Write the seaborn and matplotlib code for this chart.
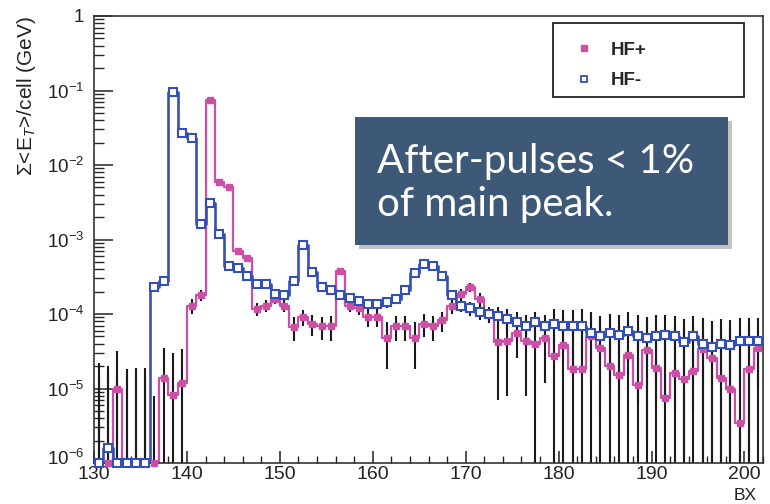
import numpy as np
import pandas as pd
import matplotlib
matplotlib.use("Agg")
import matplotlib.pyplot as plt
import matplotlib.transforms as mtransforms
import seaborn as sns
from matplotlib.lines import Line2D
from matplotlib.patches import Rectangle
from matplotlib.ticker import FixedLocator, FixedFormatter, LogLocator, NullFormatter, MultipleLocator

# ---------------- data ----------------
bx_start = 130
hf_minus = [0, 1.6e-6, 0, 0, 0, 0, 2.3e-4, 2.8e-4, 9.5e-2, 2.7e-2,
            2.3e-2, 1.6e-3, 3.1e-3, 1.2e-3, 4.4e-4, 4.1e-4, 3.2e-4, 2.5e-4, 2.5e-4, 1.85e-4,
            1.8e-4, 2.8e-4, 8.5e-4, 3.7e-4, 2.3e-4, 2.1e-4, 1.8e-4, 1.65e-4, 1.5e-4, 1.35e-4,
            1.35e-4, 1.45e-4, 1.6e-4, 2.1e-4, 3.6e-4, 4.7e-4, 4.4e-4, 3.2e-4, 1.8e-4, 1.3e-4,
            1.2e-4, 1.07e-4, 1.0e-4, 9.5e-5, 8.5e-5, 7.8e-5, 6.8e-5, 7.8e-5, 6.8e-5, 7.3e-5,
            6.8e-5, 6.9e-5, 7.0e-5, 5.6e-5, 5.0e-5, 5.6e-5, 5.2e-5, 6.0e-5, 5.1e-5, 4.7e-5,
            5.1e-5, 5.2e-5, 5.0e-5, 4.2e-5, 5.0e-5, 4.0e-5, 3.6e-5, 4.0e-5, 3.8e-5, 4.3e-5,
            4.3e-5, 4.3e-5]
hf_plus = [0, 0, 1.0e-5, 0, 0, 0, 0, 1.4e-5, 8.1e-6, 1.17e-5,
           1.3e-4, 1.8e-4, 7.4e-2, 6.0e-3, 5.0e-3, 7.1e-4, 5.6e-4, 1.17e-4, 1.3e-4, 1.6e-4,
           1.3e-4, 6.7e-5, 9.2e-5, 7.4e-5, 6.8e-5, 6.8e-5, 3.8e-4, 1.3e-4, 1.2e-4, 9.2e-5,
           9.2e-5, 4.8e-5, 6.8e-5, 6.8e-5, 4.8e-5, 7.4e-5, 6.8e-5, 8.2e-5, 1.3e-4, 1.85e-4,
           2.3e-4, 1.6e-4, 1.0e-4, 4.2e-5, 4.3e-5, 5.6e-5, 4.3e-5, 4.0e-5, 4.7e-5, 2.7e-5,
           3.8e-5, 1.85e-5, 1.85e-5, 5.0e-5, 3.5e-5, 2.0e-5, 1.5e-5, 2.8e-5, 1.1e-5, 3.3e-5,
           1.9e-5, 7.5e-6, 1.6e-5, 1.35e-5, 1.7e-5, 3.4e-5, 2.6e-5, 1.4e-5, 1.0e-5, 3.4e-6,
           1.85e-5, 3.5e-5]
hf_minus_err = [1.5e-5, 1.5e-5, 1.5e-5, 1.5e-5, 1.5e-5, 1.5e-5, 3e-5, 3e-5, 2e-3, 1e-3,
                1e-3, 1e-4, 1.5e-4, 8e-5, 4e-5, 4e-5, 3e-5, 2.5e-5, 2.5e-5, 2.5e-5,
                2.5e-5, 2.5e-5, 4e-5, 3e-5, 2.5e-5, 2.5e-5, 2.5e-5, 2.5e-5, 2.5e-5, 2.5e-5,
                2.5e-5, 2.5e-5, 2.5e-5, 2.5e-5, 3e-5, 3e-5, 3e-5, 3e-5, 2.5e-5, 2.5e-5,
                2.5e-5, 2.5e-5, 2.5e-5, 3e-5, 3e-5, 3e-5, 3e-5, 3e-5, 3e-5, 4.5e-5,
                4.5e-5, 4.5e-5, 4.5e-5, 4.5e-5, 4.5e-5, 4.5e-5, 4.5e-5, 4.5e-5, 4.5e-5, 4.5e-5,
                4.5e-5, 4.5e-5, 4.5e-5, 4.5e-5, 4.5e-5, 4.5e-5, 4.5e-5, 4.5e-5, 4.5e-5, 4.5e-5,
                4.5e-5, 4.5e-5]
hf_plus_err = [2.2e-5, 2.0e-5, 2.2e-5, 1.8e-5, 1.9e-5, 1.9e-5, 8e-6, 2.1e-5, 2.2e-5, 2.2e-5,
               3e-5, 3e-5, 1e-3, 2e-4, 2e-4, 5e-5, 5e-5, 2.2e-5, 2.2e-5, 2.2e-5,
               2.2e-5, 2.3e-5, 2.2e-5, 2.3e-5, 2.3e-5, 2.5e-5, 3e-5, 2.2e-5, 2.2e-5, 2.5e-5,
               2.5e-5, 3e-5, 2.5e-5, 2.5e-5, 3e-5, 2.5e-5, 2.5e-5, 2.5e-5, 3e-5, 3e-5,
               3e-5, 3e-5, 2.5e-5, 3.5e-5, 3.5e-5, 3e-5, 3.5e-5, 4e-5, 3.5e-5, 5.5e-5,
               5.5e-5, 5.5e-5, 5.5e-5, 5.5e-5, 5.5e-5, 5.5e-5, 5.5e-5, 5.5e-5, 5.5e-5, 5.5e-5,
               5.5e-5, 5.5e-5, 5.5e-5, 5.5e-5, 5.5e-5, 5.5e-5, 5.5e-5, 5.5e-5, 5.5e-5, 5.5e-5,
               5.5e-5, 2.5e-5]
series_names = ["HF+", "HF-"]
x_ticks = [130, 140, 150, 160, 170, 180, 190, 200]
y_ticks = [1e-6, 1e-5, 1e-4, 1e-3, 1e-2, 1e-1, 1]
y_tick_labels = ["$10^{-6}$", "$10^{-5}$", "$10^{-4}$", "$10^{-3}$", "$10^{-2}$", "$10^{-1}$", "1"]
x_label = "BX"
y_label = r"$\Sigma$<E$_T$>/cell (GeV)"
note_text = "After-pulses < 1%\nof main peak."

# ---------------- style ----------------
sns.set_theme(style="white")
plt.rcParams["font.family"] = ["Liberation Sans", "DejaVu Sans"]
plt.rcParams["mathtext.fontset"] = "custom"
plt.rcParams["mathtext.rm"] = "Liberation Sans"
plt.rcParams["mathtext.it"] = "Liberation Sans:italic"
plt.rcParams["mathtext.bf"] = "Liberation Sans:bold"

c_plus = "#cc4fa6"
c_minus = "#3450b8"
ymin, ymax = 1e-6, 1.0

n = len(hf_minus)
centers = bx_start + 0.5 + np.arange(n)
edges = bx_start + np.arange(n + 1)

df = pd.DataFrame({
    "center": np.concatenate([centers, centers]),
    "value": np.concatenate([hf_plus, hf_minus]),
    "err": np.concatenate([hf_plus_err, hf_minus_err]),
    "series": [series_names[0]] * n + [series_names[1]] * n,
})
df["shown"] = df["value"].clip(lower=ymin)

fig = plt.figure(figsize=(7.70, 5.04), dpi=100)
fig.patch.set_facecolor("white")
ax = fig.add_axes([94 / 770, 41 / 504, 669 / 770, 447 / 504])
ax.set_yscale("log")

# error bars
for name in series_names:
    sub = df[df.series == name]
    lo = np.maximum(sub["value"] - sub["err"], ymin * 0.1)
    hi = sub["value"] + sub["err"]
    ax.vlines(sub["center"], lo, hi, colors="#1a1a1a", linewidth=1.5, zorder=1)

# step lines (bin edges)
for name, col, lw in [(series_names[0], c_plus, 1.6), (series_names[1], c_minus, 1.9)]:
    sub = df[df.series == name]
    vals = np.append(sub["shown"].values, sub["shown"].values[-1])
    sns.lineplot(x=edges, y=vals, drawstyle="steps-post", color=col, linewidth=lw,
                 estimator=None, sort=False, ax=ax, zorder=2, legend=False)

# markers
sub_p = df[df.series == series_names[0]]
sub_m = df[df.series == series_names[1]]
ax.plot(sub_p["center"], sub_p["shown"], ls="none", marker="s", ms=4, color=c_plus,
        mec=c_plus, zorder=3, clip_on=False)
ax.plot(sub_m["center"], sub_m["shown"], ls="none", marker="s", ms=5.5, mfc="white",
        mec=c_minus, mew=1.5, zorder=4, clip_on=False)

ax.set_xlim(bx_start, bx_start + n)
ax.set_ylim(ymin, ymax)

# ticks
ax.yaxis.set_major_locator(FixedLocator(y_ticks))
ax.yaxis.set_major_formatter(FixedFormatter(y_tick_labels))
ax.yaxis.set_minor_locator(LogLocator(base=10, subs=np.arange(2, 10), numticks=20))
ax.yaxis.set_minor_formatter(NullFormatter())
ax.xaxis.set_major_locator(FixedLocator(x_ticks))
ax.set_xticklabels([str(t) for t in x_ticks])
ax.xaxis.set_minor_locator(MultipleLocator(2))
ax.tick_params(axis="y", which="major", direction="in", length=14, width=1.1,
               labelsize=13.5, pad=7, colors="#222222", left=True)
ax.tick_params(axis="y", which="minor", direction="in", length=7, width=1.0, left=True)
ax.tick_params(axis="x", which="major", direction="in", length=9, width=1.1,
               labelsize=14, pad=2.5, colors="#222222", bottom=True)
ax.tick_params(axis="x", which="minor", direction="in", length=5, width=1.0, bottom=True)
for lab in ax.get_xticklabels() + ax.get_yticklabels():
    lab.set_color("#222222")
for sp in ax.spines.values():
    sp.set_color("#333333")
    sp.set_linewidth(1.2)

# lift the lowest y label slightly so it does not collide with the first x label
first_ylab = ax.get_yticklabels()[0]
first_ylab.set_transform(first_ylab.get_transform() +
                         mtransforms.ScaledTranslation(0, 6 / 100, fig.dpi_scale_trans))

ax.set_xlabel(x_label, fontsize=12.5, color="#222222", ha="right", va="top")
ax.xaxis.set_label_coords(0.99, -0.056)
ax.set_ylabel(y_label, loc="top", fontsize=15, labelpad=6, color="#222222")

# legend
fig.patches.append(Rectangle((553 / 770, 1 - 97 / 504), 191 / 770, 74 / 504,
                             transform=fig.transFigure, facecolor="white",
                             edgecolor="#222222", linewidth=1.3, zorder=5))
handles = [Line2D([], [], ls="none", marker="s", ms=4, color=c_plus),
           Line2D([], [], ls="none", marker="s", ms=5, mfc="white", mec=c_minus, mew=1.3)]
leg = fig.legend(handles, series_names, loc="upper left",
                 bbox_to_anchor=(558 / 770, 1 - 25 / 504), frameon=False,
                 prop={"weight": "bold", "size": 13.5}, handlelength=1.0,
                 handletextpad=0.9, labelspacing=0.7)
leg.set_zorder(6)

# annotation box with shadow
bx0, by0, bw, bh = 355 / 770, 1 - 245 / 504, 373 / 770, 128 / 504
fig.patches.append(Rectangle((bx0 + 4 / 770, by0 - 4 / 504), bw, bh, transform=fig.transFigure,
                             facecolor="#9a9a9a", edgecolor="none", alpha=0.6, zorder=5))
fig.patches.append(Rectangle((bx0, by0), bw, bh, transform=fig.transFigure,
                             facecolor="#3e5878", edgecolor="none", zorder=6))
fig.text(bx0 + 22 / 770, by0 + bh / 2 - 2 / 504, note_text, color="white", fontsize=29,
         family=["Lato", "DejaVu Sans"], va="center", ha="left", linespacing=1.22, zorder=7)

fig.savefig("out.png", dpi=100, facecolor="white")
